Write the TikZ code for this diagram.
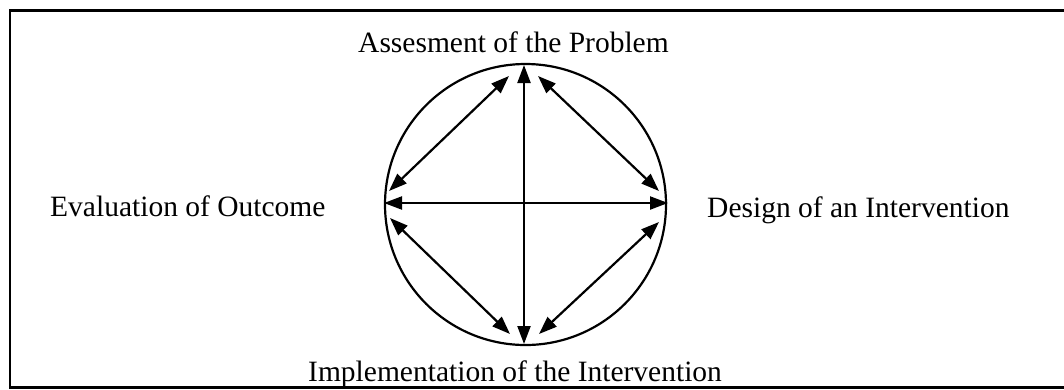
\documentclass[tikz,border=0pt]{standalone}
\usepackage{fontspec}
\setmainfont{Liberation Serif}
\usetikzlibrary{arrows.meta}
\begin{document}
\begin{tikzpicture}[x=1pt,y=-1pt,
  lbl/.style={anchor=base west, inner sep=0pt, font=\fontsize{29.5}{35}\selectfont},
  link/.style={line width=2.2pt, {Triangle[length=18pt,width=13pt]}-{Triangle[length=18pt,width=13pt]}},
  frame/.style={line width=2.4pt}]
\useasboundingbox (0,0) rectangle (1064,389);
\begin{scope}
\clip (0,0) rectangle (1064,389);
\draw[frame] (10,10.5) rectangle (1075,387.5);
\end{scope}
\node[circle, draw, line width=2.2pt, minimum size=281pt, inner sep=0pt] (C) at (525.5,204.5) {};
\node[lbl] (A) at (358,52) {Assesment of the Problem};
\node[lbl] (E) at (50,216) {Evaluation of Outcome};
\node[lbl] (D) at (707,217) {Design of an Intervention};
\node[lbl] (I) at (308,381) {Implementation of the Intervention};
\coordinate (t) at (524,65);
\coordinate (b) at (524,344);
\coordinate (l) at (384,203);
\coordinate (r) at (668,203);
\coordinate (ul1) at (389,191);
\coordinate (ul2) at (509,76);
\coordinate (ur1) at (538,76);
\coordinate (ur2) at (659,191);
\coordinate (ll1) at (390,218);
\coordinate (ll2) at (510,334);
\coordinate (lr1) at (659,222);
\coordinate (lr2) at (539,334);
\draw[link] (t) -- (b);
\draw[link] (l) -- (r);
\draw[link] (ul1) -- (ul2);
\draw[link] (ur1) -- (ur2);
\draw[link] (ll1) -- (ll2);
\draw[link] (lr1) -- (lr2);
\end{tikzpicture}
\end{document}
